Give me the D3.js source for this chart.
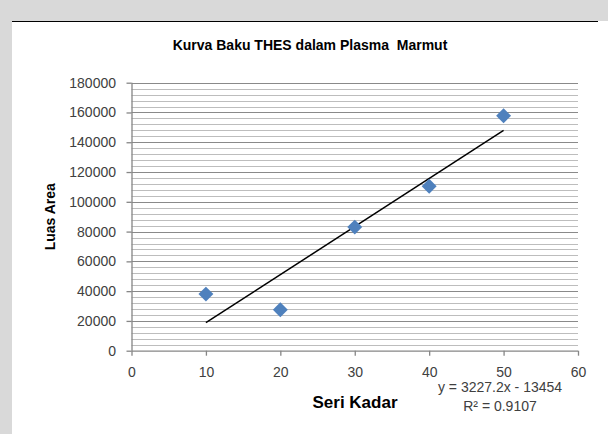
<!DOCTYPE html>
<html>
<head>
<meta charset="utf-8">
<script src="https://cdn.jsdelivr.net/npm/d3@7"></script>
<style>
  html, body { margin: 0; padding: 0; background: #fff; }
  svg { display: block; }
  text { font-family: "Liberation Sans", Arial, sans-serif; }
</style>
</head>
<body>
<svg id="chart" width="608" height="434"></svg>
<script>
// ---- data ----
const seriKadar = [10, 20, 30, 40, 50];
const luasArea = [38000, 27500, 83000, 110500, 157800];
const xTicks = [0, 10, 20, 30, 40, 50, 60];
const yTicks = [0, 20000, 40000, 60000, 80000, 100000, 120000, 140000, 160000, 180000];
const trendSlope = 3227.2;
const trendIntercept = -13454;
const trendRange = [10, 50];
const titleText = "Kurva Baku THES dalam Plasma  Marmut";
const xTitle = "Seri Kadar";
const yTitle = "Luas Area";
const eqText = "y = 3227.2x - 13454";
const r2Text = "R² = 0.9107";

const svg = d3.select("#chart");

// frame
svg.append("rect").attr("x", 0).attr("y", 0).attr("width", 608).attr("height", 434).attr("fill", "#d9d9d9");
svg.append("rect").attr("x", 12).attr("y", 21).attr("width", 596).attr("height", 413).attr("fill", "#ffffff");
svg.append("line").attr("x1", 12).attr("x2", 598).attr("y1", 21.5).attr("y2", 21.5)
  .attr("stroke", "#000").attr("stroke-width", 1);

const x = d3.scaleLinear().domain([0, 60]).range([131.5, 578]);
const y = d3.scaleLinear().domain([0, 180000]).range([350.7, 82.7]);

// minor gridlines
const minorTicks = d3.range(0, 180001, 4000).filter(v => v % 20000 !== 0);
svg.append("g").selectAll("line").data(minorTicks).join("line")
  .attr("x1", x(0)).attr("x2", x(60))
  .attr("y1", d => Math.round(y(d)) + 0.5).attr("y2", d => Math.round(y(d)) + 0.5)
  .attr("stroke", "#bdbdbd").attr("stroke-width", 1);

// major gridlines
svg.append("g").selectAll("line").data(yTicks.filter(v => v > 0)).join("line")
  .attr("x1", x(0)).attr("x2", x(60))
  .attr("y1", d => Math.round(y(d)) + 0.5).attr("y2", d => Math.round(y(d)) + 0.5)
  .attr("stroke", "#8a8a8a").attr("stroke-width", 1.2);

// axes
const yAxis = d3.axisLeft(y).tickValues(yTicks).tickFormat(d3.format("d")).tickSize(5).tickPadding(10.5);
const gy = svg.append("g").attr("transform", `translate(${x(0)},0)`).call(yAxis);
const xAxis = d3.axisBottom(x).tickValues(xTicks).tickFormat(d3.format("d")).tickSize(5).tickPadding(11);
const gx = svg.append("g").attr("transform", `translate(0,${y(0)})`).call(xAxis);
[gx, gy].forEach(g => {
  g.select(".domain").attr("stroke", "#868686").attr("stroke-width", 1.3);
  g.selectAll(".tick line").attr("stroke", "#868686").attr("stroke-width", 1.3);
  g.selectAll("text").attr("fill", "#404040").style("font-size", "14px")
    .style("font-family", '"Liberation Sans", Arial, sans-serif');
});
gx.select(".domain").attr("d", `M${x(0)},0.5H${x(60)}`);
gy.select(".domain").attr("d", `M0.5,${y(180000)}V${y(0)}`);

// trendline
const trendData = trendRange.map(v => ({ x: v, y: trendSlope * v + trendIntercept }));
svg.append("path").datum(trendData)
  .attr("d", d3.line().x(d => x(d.x)).y(d => y(d.y)))
  .attr("fill", "none").attr("stroke", "#000").attr("stroke-width", 1.5);

// points (diamonds)
const diamond = d3.symbol().type(d3.symbolSquare).size(112);
svg.append("g").selectAll("path").data(seriKadar.map((v, i) => [v, luasArea[i]])).join("path")
  .attr("d", diamond)
  .attr("transform", d => `translate(${x(d[0])},${y(d[1])}) rotate(45)`)
  .attr("fill", "#4f81bd");

// titles
svg.append("text").attr("x", 310).attr("y", 50).attr("text-anchor", "middle")
  .style("font-size", "14px").style("font-weight", "bold").style("white-space", "pre")
  .attr("fill", "#000").text(titleText);

svg.append("text").attr("x", 355).attr("y", 408).attr("text-anchor", "middle")
  .style("font-size", "17px").style("font-weight", "bold").attr("fill", "#000").text(xTitle);

svg.append("text").attr("transform", "translate(55,216.7) rotate(-90)").attr("text-anchor", "middle")
  .style("font-size", "14px").style("font-weight", "bold").attr("fill", "#000").text(yTitle);

// equation labels
svg.append("text").attr("x", 500).attr("y", 392).attr("text-anchor", "middle")
  .style("font-size", "14px").attr("fill", "#404040").text(eqText);
svg.append("text").attr("x", 500).attr("y", 411).attr("text-anchor", "middle")
  .style("font-size", "14px").attr("fill", "#404040").text(r2Text);
</script>
</body>
</html>
